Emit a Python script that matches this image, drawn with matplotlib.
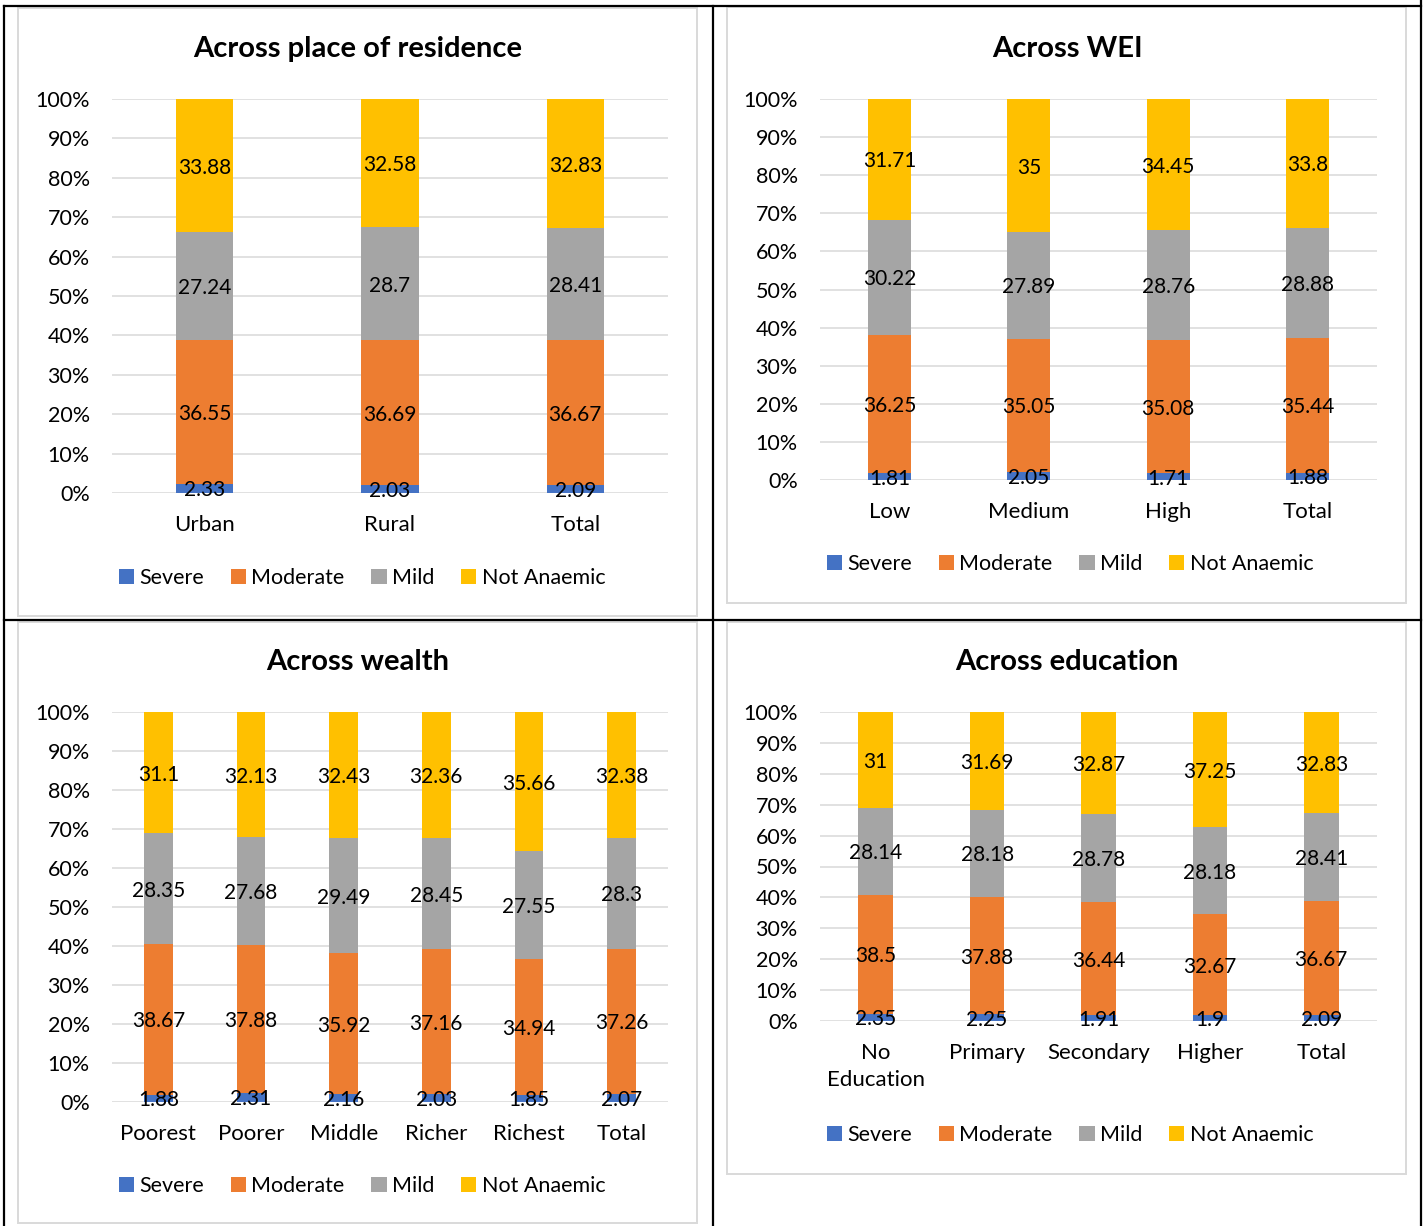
import matplotlib
matplotlib.use('Agg')
import matplotlib.pyplot as plt
import numpy as np
from matplotlib.patches import Rectangle
from matplotlib.lines import Line2D
from matplotlib.ticker import PercentFormatter

plt.rcParams['font.family'] = ['Lato', 'DejaVu Sans']

W, H = 1424, 1226

series = ['Severe', 'Moderate', 'Mild', 'Not Anaemic']
colors = ['#4472C4', '#ED7D31', '#A5A5A5', '#FFC000']

# Place of residence
res_cats = ['Urban', 'Rural', 'Total']
res_severe = [2.33, 2.03, 2.09]
res_moderate = [36.55, 36.69, 36.67]
res_mild = [27.24, 28.7, 28.41]
res_not = [33.88, 32.58, 32.83]

# Women's empowerment index
wei_cats = ['Low', 'Medium', 'High', 'Total']
wei_severe = [1.81, 2.05, 1.71, 1.88]
wei_moderate = [36.25, 35.05, 35.08, 35.44]
wei_mild = [30.22, 27.89, 28.76, 28.88]
wei_not = [31.71, 35, 34.45, 33.8]

# Wealth quintile
wealth_cats = ['Poorest', 'Poorer', 'Middle', 'Richer', 'Richest', 'Total']
wealth_severe = [1.88, 2.31, 2.16, 2.03, 1.85, 2.07]
wealth_moderate = [38.67, 37.88, 35.92, 37.16, 34.94, 37.26]
wealth_mild = [28.35, 27.68, 29.49, 28.45, 27.55, 28.3]
wealth_not = [31.1, 32.13, 32.43, 32.36, 35.66, 32.38]

# Education level
edu_cats = ['No\nEducation', 'Primary', 'Secondary', 'Higher', 'Total']
edu_severe = [2.35, 2.25, 1.91, 1.9, 2.09]
edu_moderate = [38.5, 37.88, 36.44, 32.67, 36.67]
edu_mild = [28.14, 28.18, 28.78, 28.18, 28.41]
edu_not = [31, 31.69, 32.87, 37.25, 32.83]


def px_rect(x0, y0, x1, y1):
    return [x0 / W, 1 - y1 / H, (x1 - x0) / W, (y1 - y0) / H]


def draw_panel(fig, box, frame, title_xy, legend_xy, title, cats, data):
    # light grey chart-area frame
    fx0, fy0, fx1, fy1 = frame
    fig.add_artist(Rectangle((fx0 / W, 1 - fy1 / H), (fx1 - fx0) / W, (fy1 - fy0) / H,
                             transform=fig.transFigure, fill=False,
                             edgecolor='#D9D9D9', lw=1.4))
    fig.text(title_xy[0] / W, 1 - title_xy[1] / H, title, ha='center', va='center',
             fontsize=21, fontweight='bold', color='black')

    ax = fig.add_axes(px_rect(*box))
    vals = np.array(data, dtype=float)
    pct = vals / vals.sum(axis=0) * 100
    x = np.arange(len(cats))
    bottom = np.zeros(len(cats))
    for i, name in enumerate(series):
        bars = ax.bar(x, pct[i], 0.31, bottom=bottom, color=colors[i], label=name, zorder=2)
        texts = ax.bar_label(bars, labels=[f'{v:g}' for v in vals[i]], label_type='center',
                             fontsize=15, color='black')
        for t in texts:
            t.set_va('center_baseline')
        bottom += pct[i]

    ax.set_xlim(-0.5, len(cats) - 0.5)
    ax.set_ylim(0, 100)
    ax.set_yticks(np.arange(0, 101, 10))
    ax.yaxis.set_major_formatter(PercentFormatter(decimals=0))
    ax.set_xticks(x)
    ax.set_xticklabels(cats, linespacing=1.45)
    ax.tick_params(axis='y', length=0, pad=16, labelsize=15.5)
    ax.tick_params(axis='x', length=0, pad=16, labelsize=16)
    ax.grid(axis='y', color='#D9D9D9', lw=1.1, zorder=0)
    for s in ax.spines.values():
        s.set_visible(False)
    ax.legend(loc='center', bbox_to_anchor=(legend_xy[0] / W, 1 - legend_xy[1] / H),
              bbox_transform=fig.transFigure, ncol=4, frameon=False, fontsize=15.5,
              handlelength=0.7, handleheight=0.7, handletextpad=0.25,
              columnspacing=1.25)
    return ax


fig = plt.figure(figsize=(W / 100, H / 100), dpi=100)

draw_panel(fig, (112, 99, 668, 493), (18, 8, 697, 616), (358, 49), (362, 578),
           'Across place of residence', res_cats,
           [res_severe, res_moderate, res_mild, res_not])
draw_panel(fig, (820, 99, 1377, 480), (727, 7, 1406, 603), (1067, 49), (1070, 564),
           'Across WEI', wei_cats,
           [wei_severe, wei_moderate, wei_mild, wei_not])
draw_panel(fig, (112, 712, 668, 1102), (18, 622, 697, 1223), (358, 662), (362, 1186),
           'Across wealth', wealth_cats,
           [wealth_severe, wealth_moderate, wealth_mild, wealth_not])
draw_panel(fig, (820, 712, 1377, 1021), (727, 622, 1406, 1174), (1067, 662), (1070, 1135),
           'Across education', edu_cats,
           [edu_severe, edu_moderate, edu_mild, edu_not])

# black table rules around the four charts
def rule(x0, y0, x1, y1):
    fig.add_artist(Line2D([x0 / W, x1 / W], [1 - y0 / H, 1 - y1 / H],
                          transform=fig.transFigure, color='black', lw=1.6))

rule(4, 6, 1421, 6)
rule(4, 620, 1421, 620)
rule(4, 6, 4, 1226)
rule(713, 6, 713, 1226)
rule(1421, 0, 1421, 1226)

fig.savefig('out.png', dpi=100)
